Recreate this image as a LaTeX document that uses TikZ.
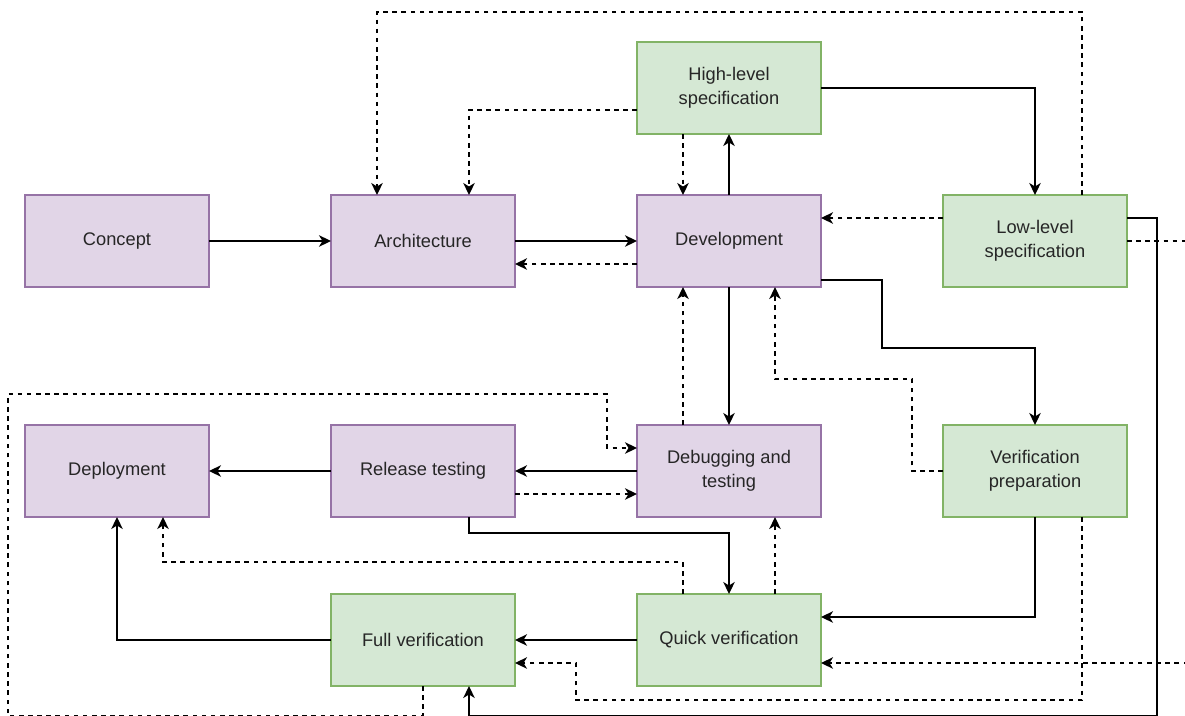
\documentclass[tikz,border=0pt]{standalone}
\usepackage{fontspec}
\setmainfont{Liberation Sans}
\usetikzlibrary{arrows.meta,positioning}
\definecolor{pfill}{HTML}{E1D5E7}
\definecolor{pline}{HTML}{9673A6}
\definecolor{gfill}{HTML}{D5E8D4}
\definecolor{gline}{HTML}{82B366}
\tikzset{
  pbox/.style={draw=pline, fill=pfill, rectangle, align=center, font=\fontsize{10.4}{13.6}\selectfont, text=black!85, minimum width=36.8mm, minimum height=18.4mm, inner sep=2pt, outer sep=0pt, line width=0.8pt},
  gbox/.style={pbox, draw=gline, fill=gfill},
  arr/.style={-{Stealth[length=2.4mm, width=2.3mm, inset=0.7mm]}, line width=0.8pt},
  darr/.style={arr, dash pattern=on 2.6pt off 2.6pt},
}
\begin{document}
\begin{tikzpicture}
\useasboundingbox (0,0) rectangle (23.7,-14.32);
% top row
\node[pbox] (concept) at (2.34,-4.82) {Concept};
\node[pbox, right=24.4mm of concept] (arch) {Architecture};
\node[pbox, right=24.4mm of arch] (dev) {Development};
\node[gbox, right=24.4mm of dev] (lls) {Low-level\\specification};
\node[gbox, above=12.2mm of dev] (hls) {High-level\\specification};
% middle row
\node[pbox, below=27.6mm of concept] (dep) {Deployment};
\node[pbox, below=27.6mm of arch] (rt) {Release testing};
\node[pbox, below=27.6mm of dev] (dbg) {Debugging and\\testing};
\node[gbox, below=27.6mm of lls] (vp) {Verification\\preparation};
% bottom row
\node[gbox, below=15.4mm of rt] (fv) {Full verification};
\node[gbox, below=15.4mm of dbg] (qv) {Quick verification};
% connectors
\draw[arr] (concept) -- (arch);
\draw[arr] (arch) -- (dev);
\draw[darr] ([yshift=-4.6mm]dev.west) -- ([yshift=-4.6mm]arch.east);
\draw[arr] (dev) -- (hls);
\draw[darr] ([xshift=-9.2mm]hls.south) -- ([xshift=-9.2mm]dev.north);
\draw[darr] ([yshift=-4.4mm]hls.west) -| ([xshift=9.2mm]arch.north);
\draw[arr] (hls.east) -| (lls.north);
\draw[darr] ([xshift=9.4mm]lls.north) |- ([xshift=-9.2mm, yshift=36.6mm]arch.north) -- ([xshift=-9.2mm]arch.north);
\draw[darr] ([yshift=4.6mm]lls.west) -- ([yshift=4.6mm]dev.east);
\draw[arr] ([yshift=4.6mm]lls.east) -- ++(0.6,0) |- ([xshift=9.2mm, yshift=-6mm]fv.south) -- ([xshift=9.2mm]fv.south);
\draw[darr] (lls.east) -- ++(1.6,0) |- ([yshift=-4.6mm]qv.east);
\draw[arr] ([yshift=-7.8mm]dev.east) -| ++(1.22,-1.36) -| (vp.north);
\draw[arr] (dev) -- (dbg);
\draw[darr] ([xshift=-9.2mm]dbg.north) -- ([xshift=-9.2mm]dev.south);
\draw[darr] (vp.west) -- ++(-0.62,0) |- ([xshift=9.2mm, yshift=-18.4mm]dev.south) -- ([xshift=9.2mm]dev.south);
\draw[arr] (dbg) -- (rt);
\draw[darr] ([yshift=-4.6mm]rt.east) -- ([yshift=-4.6mm]dbg.west);
\draw[arr] (rt) -- (dep);
\draw[darr] (fv.south) -- ++(0,-0.6) -| ++(-8.3,6.44) -- ++(11.98,0) |- ([yshift=4.6mm]dbg.west);
\draw[arr] ([xshift=9.2mm]rt.south) -- ++(0,-0.32) -| (qv.north);
\draw[darr] ([xshift=9.2mm]qv.north) -- ([xshift=9.2mm]dbg.south);
\draw[darr] ([xshift=-9.2mm]qv.north) -- ++(0,0.64) -| ([xshift=9.2mm]dep.south);
\draw[arr] (fv.west) -| (dep.south);
\draw[arr] (qv) -- (fv);
\draw[arr] (vp.south) |- ([yshift=4.6mm]qv.east);
\draw[darr] ([xshift=9.4mm]vp.south) -- ++(0,-3.66) -| ([xshift=12.2mm, yshift=-4.6mm]fv.east) -- ([yshift=-4.6mm]fv.east);
\end{tikzpicture}
\end{document}
